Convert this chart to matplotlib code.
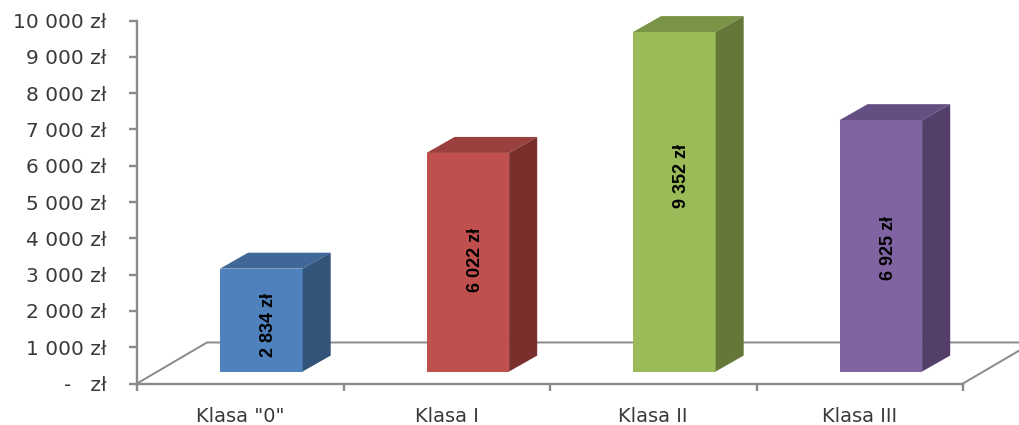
import matplotlib
matplotlib.use('Agg')
import matplotlib.pyplot as plt
from matplotlib.patches import Polygon

# values
categories = ['Klasa "0"', 'Klasa I', 'Klasa II', 'Klasa III']
values = [2834, 6022, 9352, 6925]
value_labels = ['2 834 zł', '6 022 zł', '9 352 zł', '6 925 zł']
y_ticks = [0, 1000, 2000, 3000, 4000, 5000, 6000, 7000, 8000, 9000, 10000]
y_tick_labels = ['-   zł', '1 000 zł', '2 000 zł', '3 000 zł', '4 000 zł', '5 000 zł',
                 '6 000 zł', '7 000 zł', '8 000 zł', '9 000 zł', '10 000 zł']
label_heights = [1610, 3400, 5710, 3730]

front_colors = ['#4f81bd', '#c0504d', '#9bbb59', '#8064a2']
top_colors = ['#3f6797', '#9a403e', '#7a9445', '#654f82']
side_colors = ['#335479', '#7a2f2d', '#65783a', '#533f6a']

W, H = 1019, 425
GRAY = '#8a8a8a'
TEXT = '#3a3a3a'

fig = plt.figure(figsize=(W / 100, H / 100), dpi=100)
ax = fig.add_axes([137 / W, 1 - 383.5 / H, 826 / W, 363 / H])
ax.set_xlim(0, 4)
ax.set_ylim(0, 10000)

# fake 3D offsets, in axis units
floor_dx, floor_dy = 0.339, 1130
shift_x, shift_y = 0.102, 330
bar_w = 0.40
depth_x, depth_y = 0.136, 440

# floor outline
ax.plot([0, floor_dx, 4 + floor_dx], [0, floor_dy, floor_dy], color=GRAY, lw=1.4,
        clip_on=False, zorder=1)
ax.plot([4, 4 + floor_dx], [0, floor_dy], color=GRAY, lw=1.4, clip_on=False, zorder=1)

for i, v in enumerate(values):
    left = i + 0.5 - bar_w / 2 + shift_x
    right = left + bar_w
    base = shift_y
    top = shift_y + v
    ax.bar(left, v, bar_w, bottom=base, align='edge', color=front_colors[i], zorder=3)
    ax.add_patch(Polygon([(left, top), (right, top), (right + depth_x, top + depth_y),
                          (left + depth_x, top + depth_y)],
                         closed=True, fc=top_colors[i], ec='none', clip_on=False, zorder=3))
    ax.add_patch(Polygon([(right, base), (right + depth_x, base + depth_y),
                          (right + depth_x, top + depth_y), (right, top)],
                         closed=True, fc=side_colors[i], ec='none', clip_on=False, zorder=3))
    ax.text(i + 0.5 + shift_x + 0.035, label_heights[i], value_labels[i], rotation=90,
            ha='center', va='center', fontsize=13, color='black', fontweight='bold',
            family=['Liberation Sans', 'DejaVu Sans'], zorder=4)

for s in ['top', 'right']:
    ax.spines[s].set_visible(False)
for s in ['left', 'bottom']:
    ax.spines[s].set_color(GRAY)
    ax.spines[s].set_linewidth(1.7)

ax.set_yticks(y_ticks)
ax.set_yticklabels(y_tick_labels)
ax.set_xticks([0, 1, 2, 3, 4])
ax.set_xticklabels([])
ax.set_xticks([0.5, 1.5, 2.5, 3.5], minor=True)
ax.set_xticklabels(categories, minor=True)
ax.tick_params(axis='y', length=6, width=1.7, color=GRAY, labelcolor=TEXT, labelsize=14.5, pad=16)
ax.tick_params(axis='x', which='major', length=5, width=1.7, color=GRAY)
ax.tick_params(axis='x', which='minor', length=0, labelcolor=TEXT, labelsize=14, pad=17)

fig.savefig('out.png', dpi=100)
